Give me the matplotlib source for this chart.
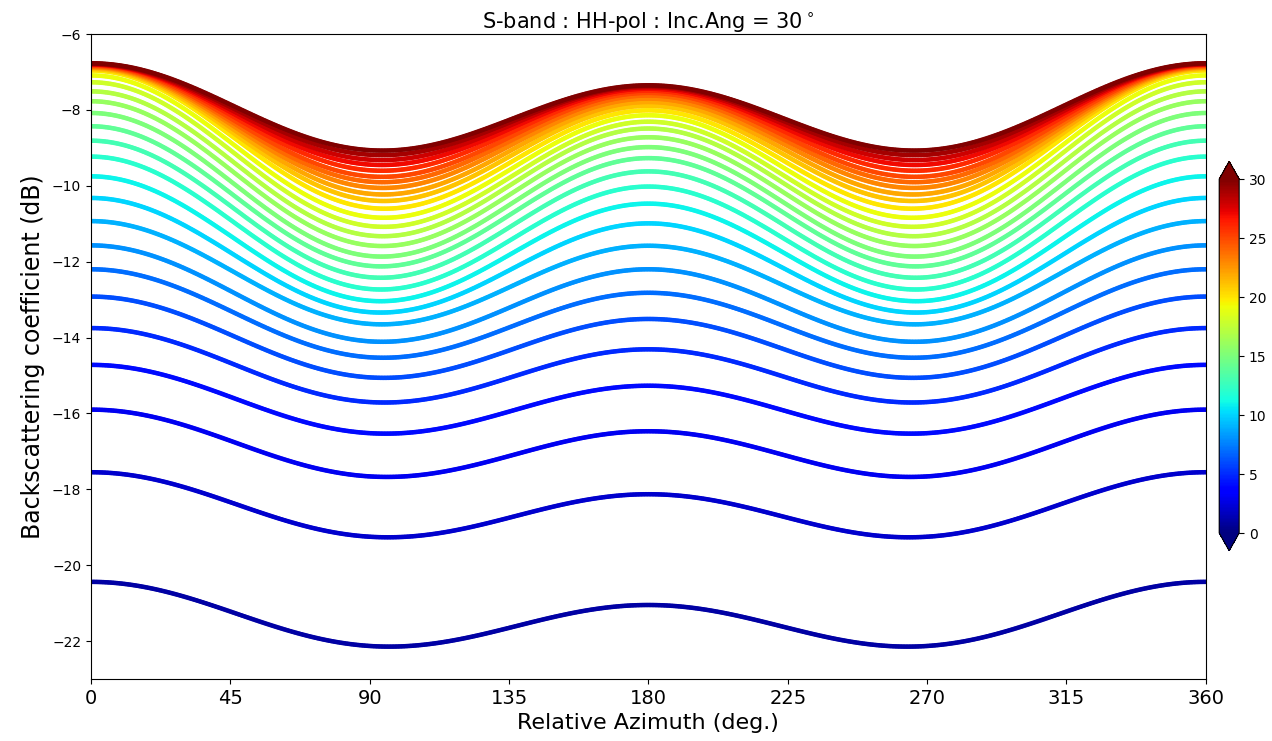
import numpy as np
import matplotlib.pyplot as plt

# wind speed (m/s) for each curve
wind_speed = np.arange(1, 31)

# backscatter (dB) read at upwind (0 deg), crosswind (90 deg) and downwind (180 deg)
sigma_up = [-20.44, -17.55, -15.90, -14.72, -13.75, -12.92, -12.20, -11.57, -10.93, -10.32,
            -9.75, -9.23, -8.81, -8.43, -8.08, -7.77, -7.51, -7.27, -7.09, -6.96,
            -6.92, -6.89, -6.87, -6.85, -6.83, -6.81, -6.80, -6.79, -6.78, -6.77]
sigma_cross = [-22.13, -19.25, -17.66, -16.52, -15.70, -15.05, -14.52, -14.10, -13.64, -13.33,
               -13.03, -12.72, -12.41, -12.11, -11.85, -11.57, -11.31, -11.06, -10.82, -10.58,
               -10.38, -10.21, -10.04, -9.89, -9.75, -9.59, -9.44, -9.31, -9.18, -9.06]
sigma_down = [-21.05, -18.13, -16.47, -15.27, -14.31, -13.51, -12.82, -12.20, -11.58, -10.99,
              -10.47, -10.02, -9.62, -9.27, -8.98, -8.72, -8.49, -8.31, -8.14, -8.01,
              -7.89, -7.79, -7.70, -7.62, -7.55, -7.49, -7.44, -7.40, -7.37, -7.35]

azimuth = np.arange(0, 360.5, 0.5)
phi = np.deg2rad(azimuth)

fig = plt.figure(figsize=(12.72, 7.41), dpi=100)
ax = fig.add_axes([0.0715, 0.0837, 0.8765, 0.8703])

for ws, up, cr, dn in zip(wind_speed, sigma_up, sigma_cross, sigma_down):
    # harmonic expansion: A0 + A1 cos(phi) + A2 cos(2 phi)
    a1 = (up - dn) / 2
    a0 = ((up + dn) / 2 + cr) / 2
    a2 = ((up + dn) / 2 - cr) / 2
    sigma = a0 + a1 * np.cos(phi) + a2 * np.cos(2 * phi)
    sc = ax.scatter(azimuth, sigma, c=np.full(azimuth.size, ws), cmap='jet',
                    vmin=0, vmax=30, s=11, edgecolors='none')

ax.set_xlim(0, 360)
ax.set_ylim(-23, -6)
ax.set_xticks(np.arange(0, 361, 45))
ax.tick_params(axis='x', labelsize=14)
ax.tick_params(axis='y', labelsize=10)
ax.set_xlabel('Relative Azimuth (deg.)', fontsize=16, labelpad=4)
ax.set_ylabel('Backscattering coefficient (dB)', fontsize=17, labelpad=5)
ax.set_title(r'S-band : HH-pol : Inc.Ang = 30$^\circ$', fontsize=15, pad=4)

cax = fig.add_axes([0.9585, 0.2568, 0.0157, 0.5255])
cb = fig.colorbar(sc, cax=cax, extend='both')
cb.set_ticks(np.arange(0, 31, 5))
cb.ax.tick_params(labelsize=10)

fig.savefig('out.png', dpi=100)
